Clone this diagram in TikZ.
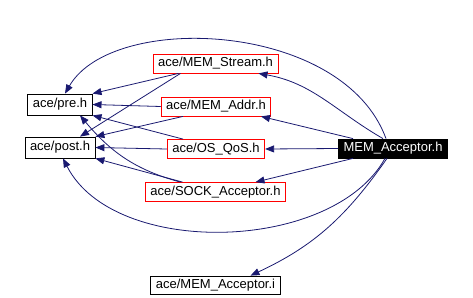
\documentclass[tikz,border=0pt]{standalone}
\usepackage{fontspec}
\setmainfont{Liberation Sans}
\usetikzlibrary{arrows.meta}

\definecolor{depblue}{RGB}{25,25,112}

\begin{document}
\begin{tikzpicture}[
    x=1pt, y=1pt,
    file/.style={draw=black, line width=0.8pt, inner xsep=5pt, inner ysep=0pt,
                 minimum height=19pt, font=\fontsize{13}{15}\selectfont},
    partial/.style={file, draw=red},
    current/.style={file, fill=black, text=white},
    dep/.style={-{Triangle[length=9pt, width=7pt]}, depblue, line width=0.8pt}
]
    \useasboundingbox (0,0) rectangle (473,-297);

    % --- Left column: common headers ---
    \node[file, minimum height=21pt] (pre)  at (60,-104.5) {ace/pre.h};
    \node[file, minimum height=21pt] (post) at (60,-147.5) {ace/post.h};

    % --- Middle column: direct includes ---
    \node[partial] (stream) at (215.5,-63.5) {ace/MEM\_Stream.h};
    \node[partial] (addr)   at (216,-106.5)  {ace/MEM\_Addr.h};
    \node[partial] (qos)    at (216,-149)    {ace/OS\_QoS.h};
    \node[partial] (sock)   at (215.5,-192)  {ace/SOCK\_Acceptor.h};
    \node[file, minimum height=18pt] (memi) at (215.5,-285) {ace/MEM\_Acceptor.i};

    % --- The header itself ---
    \node[current] (acc) at (393,-148.5) {MEM\_Acceptor.h};

    % --- Straight edges ---
    \foreach \src/\dst in {acc.west/qos.east, addr.west/pre.east, qos.west/post.east}
        \draw[dep] (\src) -- (\dst);

    % --- Edges out of MEM_Acceptor.h ---
    \draw[dep] ([xshift=-7pt]acc.north) to[out=110, in=60, out distance=125, in distance=95] ([xshift=5pt]pre.north);
    \draw[dep] ([xshift=-10pt]acc.north) to[out=150, in=-10] ([xshift=43pt]stream.south);
    \draw[dep] ([xshift=-40pt]acc.north) -- ([xshift=45pt]addr.south);
    \draw[dep] ([xshift=-40pt]acc.south) -- ([xshift=40pt]sock.north);
    \draw[dep] ([xshift=-8pt]acc.south) to[out=241, in=297, out distance=108, in distance=112] ([xshift=3pt]post.south);
    \draw[dep] ([xshift=-6pt]acc.south) to[out=235, in=25] ([xshift=35pt]memi.north);

    % --- Edges into pre.h / post.h ---
    \draw[dep] ([xshift=-37pt]stream.south) -- (pre.north east);
    \draw[dep] ([xshift=-35pt]stream.south) -- ([xshift=20pt]post.north);
    \draw[dep] ([xshift=-33pt]addr.south) -- (post.north east);
    \draw[dep] ([xshift=-33pt]qos.north) -- (pre.south east);
    \draw[dep] ([xshift=-35pt]sock.north) to[out=165, in=-50] ([xshift=20pt]pre.south);
    \draw[dep] ([xshift=-33pt]sock.north) -- (post.south east);
\end{tikzpicture}
\end{document}
